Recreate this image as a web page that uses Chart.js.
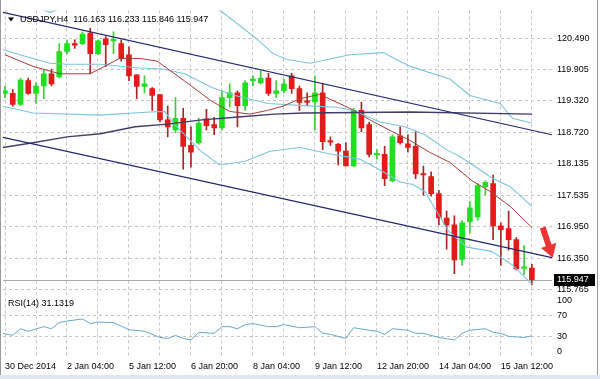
<!DOCTYPE html>
<html>
<head>
<meta charset="utf-8">
<script src="https://cdn.jsdelivr.net/npm/chart.js@4.4.1/dist/chart.umd.min.js"></script>
<style>
  html, body { margin: 0; padding: 0; background: #fff; }
  canvas { display: block; }
</style>
</head>
<body>
<canvas id="fxChart" width="600" height="379"></canvas>
<script>
// USDJPY H4 candles (bar 0 = 30 Dec 2014)
const opens  = [119.46,119.46,119.25,119.70,119.46,119.60,119.83,119.77,120.25,120.39,120.40,120.60,120.21,120.49,120.45,120.40,120.19,119.81,119.59,119.55,119.44,118.96,118.77,118.99,118.48,118.53,118.98,118.87,118.81,119.38,119.47,119.23,119.70,119.66,119.75,119.46,119.51,119.79,119.55,119.31,119.30,119.47,118.56,118.50,118.37,118.09,119.14,118.87,118.30,118.31,117.81,118.66,118.51,118.46,117.94,117.89,117.57,117.11,116.98,116.33,117.04,117.13,117.70,117.76,116.96,116.91,116.70,116.16,116.163];
const highs  = [119.60,119.53,119.75,119.75,119.66,119.90,119.92,120.40,120.47,120.47,120.62,120.69,120.47,120.53,120.62,120.47,120.34,119.81,119.79,119.57,119.44,119.22,119.38,119.18,118.83,118.99,119.16,119.01,119.51,119.64,119.51,119.70,119.79,119.88,119.84,119.70,119.73,119.84,119.60,119.47,119.79,119.64,118.64,118.52,118.53,119.18,119.29,118.92,118.40,118.46,118.68,118.83,118.68,118.74,118.09,117.98,117.63,117.24,117.15,117.06,117.42,117.76,117.81,117.92,117.02,117.24,116.74,116.59,116.233];
const lows   = [119.38,119.22,119.23,119.44,119.27,119.36,119.60,119.75,120.21,120.31,120.38,119.83,120.19,119.97,120.21,120.07,119.70,119.36,119.47,119.14,118.92,118.64,118.72,118.03,118.07,118.50,118.77,118.68,118.77,119.20,118.83,119.14,119.60,119.64,119.42,119.38,119.47,119.46,119.14,119.23,118.77,118.40,118.48,118.11,118.09,118.08,118.74,118.26,118.22,117.72,117.79,118.50,118.35,117.85,117.54,117.52,116.98,116.52,116.06,116.22,116.83,117.07,117.54,116.70,116.22,116.50,116.13,116.04,115.846];
const closes = [119.51,119.25,119.71,119.46,119.60,119.83,119.64,120.25,120.40,120.37,120.58,120.21,120.45,120.38,120.47,120.12,119.79,119.59,119.64,119.42,118.96,118.83,118.99,118.46,118.35,118.90,118.85,118.81,119.38,119.47,119.23,119.66,119.72,119.75,119.46,119.51,119.64,119.55,119.29,119.29,119.47,118.55,118.54,118.37,118.09,119.14,118.81,118.31,118.32,117.85,118.64,118.53,118.44,117.94,117.92,117.57,117.11,116.98,116.32,117.02,117.30,117.72,117.78,116.96,116.89,116.70,116.15,116.17,115.947];

// indicator lines, [bar, value] readings
const fastMA = [[0,120.19],[3.6,119.97],[7.1,119.83],[11,119.83],[14.8,120.12],[17.4,120.12],[19.6,120.07],[23.5,119.66],[26.5,119.33],[29,119.12],[31.6,119.07],[33.9,119.14],[35.9,119.22],[38.1,119.36],[40.6,119.44],[44.5,119.18],[47.1,118.96],[49.3,118.79],[52.3,118.57],[54.8,118.35],[57.4,118.16],[60.3,117.81],[62.6,117.61],[65.2,117.33],[68,116.93]];
const bbMid  = [[-0.3,120.29],[1.9,120.19],[5.8,120.03],[8,120.01],[12.3,120.01],[17.4,119.94],[20.3,119.92],[23.2,119.83],[26.7,119.57],[29.7,119.42],[33.9,119.27],[38.5,119.23],[42.8,119.20],[44.9,119.14],[48.4,118.92],[51.6,118.83],[54.2,118.68],[57.2,118.38],[58.7,118.27],[61.3,118.02],[62.8,117.87],[65.2,117.70],[68,117.33]];
const bbUp   = [[3,121.14],[5.8,120.99],[8.5,121.12],[14,121.3],[25.5,121.35],[27.7,121.03],[29.4,120.84],[32.5,120.49],[34.6,120.21],[36.4,120.10],[39.4,120.03],[44.5,120.19],[48.8,120.23],[52.3,119.97],[57.4,119.73],[60,119.42],[63.9,119.27],[65.5,118.99],[68,118.90]];
const bbLow  = [[-0.6,119.23],[3.6,119.09],[12.3,119.05],[18.7,119.11],[20.6,119.12],[21.9,118.87],[25.2,118.38],[27.7,118.11],[31,118.18],[34.2,118.37],[38.1,118.44],[41.5,118.33],[45.8,118.22],[48.8,117.98],[51,117.79],[52.6,117.74],[54.2,117.61],[57.2,116.87],[59.6,116.56],[62.8,116.48],[65.5,116.22],[68,115.86]];
const slowMA = [[-0.3,118.44],[3.6,118.53],[8,118.64],[12.3,118.70],[16.8,118.83],[21,118.88],[25.4,118.96],[29.7,119.01],[34.8,119.07],[38.5,119.09],[52.3,119.11],[68,119.07]];
const chanTop = [[-0.6,121.00],[70.6,118.68]];
const chanBot = [[-0.3,118.63],[70.6,116.36]];
const arrowPts = [[69.4,116.93],[70.7,116.36]];

const rsi14 = [[-0.3,36],[1,32],[2,45],[3,40],[5,49],[6,45],[7,57],[8,60],[10,64],[11,55],[12,58],[14,57],[16,43],[18,40],[20,28],[21,26],[22,32],[23,26],[24,23],[25,38],[27,36],[28,49],[29,49],[30,45],[31,53],[32,55],[34,49],[35,49],[36,53],[38,47],[40,49],[41,36],[42,34],[44,26],[45,47],[47,42],[48,40],[49,34],[50,45],[52,42],[53,36],[54,36],[56,28],[58,23],[59,36],[60,42],[62,45],[63,38],[64,36],[65,30],[67,28],[68,31.1319]];

const timeLabels = ['30 Dec 2014','2 Jan 04:00','5 Jan 12:00','6 Jan 20:00','8 Jan 04:00','9 Jan 12:00','12 Jan 20:00','14 Jan 04:00','15 Jan 12:00'];
const priceTicks = [120.490,119.905,119.320,118.720,118.135,117.535,116.950,116.350,115.765];
const rsiTicks = [0,30,70,100];
const rsiLevels = [30,70];

const GRID = '#c6c6c6';
const UP = '#1fe01f', DOWN = '#e41b1b';
const n = closes.length;
const isUp = closes.map((c, i) => c >= opens[i]);
const pts = arr => arr.map(p => ({ x: p[0], y: p[1] }));

Chart.defaults.font.family = '"Liberation Sans", Arial, sans-serif';
Chart.defaults.font.size = 9;
Chart.defaults.color = '#000';

const overlay = {
  id: 'overlay',
  beforeDatasetsDraw(chart) {
    const { ctx, chartArea: a, scales: { y } } = chart;
    const py = Math.round(y.getPixelForValue(closes[n - 1])) + 0.5;
    ctx.save();
    ctx.strokeStyle = '#a8a8a8';
    ctx.lineWidth = 1;
    ctx.beginPath();
    ctx.moveTo(a.left, py);
    ctx.lineTo(a.right, py);
    ctx.stroke();
    ctx.restore();
  },
  afterDatasetsDraw(chart) {
    const { ctx, scales: { x, y } } = chart;
    // red arrow
    const tx = x.getPixelForValue(arrowPts[0][0]), ty = y.getPixelForValue(arrowPts[0][1]);
    const hx = x.getPixelForValue(arrowPts[1][0]), hy = y.getPixelForValue(arrowPts[1][1]);
    const len = Math.hypot(hx - tx, hy - ty);
    const dx = (hx - tx) / len, dy = (hy - ty) / len;
    const nx = -dy, ny = dx;
    const bx = hx - dx * 13, by = hy - dy * 13;
    ctx.save();
    ctx.fillStyle = '#ec3434';
    ctx.beginPath();
    ctx.moveTo(tx + nx * 3, ty + ny * 3);
    ctx.lineTo(bx + nx * 3, by + ny * 3);
    ctx.lineTo(bx + nx * 8, by + ny * 8);
    ctx.lineTo(hx, hy);
    ctx.lineTo(bx - nx * 8, by - ny * 8);
    ctx.lineTo(bx - nx * 3, by - ny * 3);
    ctx.lineTo(tx - nx * 3, ty - ny * 3);
    ctx.closePath();
    ctx.fill();
    ctx.restore();
  },
  afterDraw(chart) {
    const { ctx, chartArea: a, scales: { y, rsi } } = chart;
    ctx.save();
    ctx.font = Chart.helpers.toFont(Chart.defaults.font).string;
    ctx.textBaseline = 'middle';
    ctx.fillStyle = '#000';
    // symbol header
    ctx.beginPath();
    ctx.moveTo(a.left + 5, a.top + 7);
    ctx.lineTo(a.left + 11, a.top + 7);
    ctx.lineTo(a.left + 8, a.top + 11);
    ctx.closePath();
    ctx.fill();
    const last = n - 1;
    ctx.fillText('USDJPY,H4  ' + [opens[last], highs[last], lows[last], closes[last]].map(v => v.toFixed(3)).join(' '), a.left + 17, a.top + 9);
    // RSI caption
    ctx.fillText('RSI(14) ' + rsi14[rsi14.length - 1][1].toFixed(4), a.left + 5, rsi.top + 11);
    // current price tag
    const py = Math.round(y.getPixelForValue(closes[last]));
    ctx.fillRect(a.right + 2, py - 6, 41, 12);
    ctx.fillStyle = '#fff';
    ctx.fillText(closes[last].toFixed(3), a.right + 5, py);
    // window frame
    ctx.fillStyle = '#9a9a9a';
    ctx.fillRect(0, 0, 1, chart.height);
    ctx.fillRect(chart.width - 3, 0, 1, chart.height);
    ctx.fillStyle = '#dfe8f2';
    ctx.fillRect(0, chart.height - 4, chart.width, 4);
    ctx.restore();
  }
};

new Chart(document.getElementById('fxChart'), {
  type: 'bar',
  data: {
    datasets: [
      { type: 'line', data: pts(chanTop), yAxisID: 'y', borderColor: '#23236e', borderWidth: 1.2, pointRadius: 0, order: 1 },
      { type: 'line', data: pts(chanBot), yAxisID: 'y', borderColor: '#23236e', borderWidth: 1.2, pointRadius: 0, order: 1 },
      { type: 'line', data: pts(slowMA), yAxisID: 'y', borderColor: '#3e3e66', borderWidth: 1.4, pointRadius: 0, order: 2 },
      { type: 'line', data: pts(fastMA), yAxisID: 'y', borderColor: '#a83c3c', borderWidth: 1, pointRadius: 0, order: 3 },
      { type: 'line', data: pts(bbUp), yAxisID: 'y', borderColor: '#7cc4dc', borderWidth: 1.1, pointRadius: 0, order: 4 },
      { type: 'line', data: pts(bbMid), yAxisID: 'y', borderColor: '#7cc4dc', borderWidth: 1.1, pointRadius: 0, order: 4 },
      { type: 'line', data: pts(bbLow), yAxisID: 'y', borderColor: '#7cc4dc', borderWidth: 1.1, pointRadius: 0, order: 4 },
      { type: 'line', data: pts(rsi14), yAxisID: 'rsi', borderColor: '#6aa8cc', borderWidth: 1, pointRadius: 0, order: 4 },
      {
        data: opens.map((o, i) => ({ x: i, y: [o, closes[i]] })), yAxisID: 'y',
        backgroundColor: isUp.map(u => u ? UP : DOWN), barThickness: 5, minBarLength: 1.5,
        grouped: false, order: 10
      },
      {
        data: lows.map((l, i) => ({ x: i, y: [l, highs[i]] })), yAxisID: 'y',
        backgroundColor: isUp.map(u => u ? '#3ccc3c' : '#a82626'), barThickness: 1,
        grouped: false, order: 11
      }
    ]
  },
  options: {
    responsive: false,
    animation: false,
    devicePixelRatio: 1,
    layout: { padding: { left: 3, top: 3, right: 0, bottom: 0 } },
    plugins: { legend: { display: false }, tooltip: { enabled: false } },
    scales: {
      x: {
        type: 'linear', min: -0.26, max: 70.6, offset: false,
        grid: { color: GRID, drawTicks: false, offset: false },
        border: { display: false, dash: [3, 3] },
        afterBuildTicks: s => { s.ticks = [0,4,8,12,16,20,24,28,32,36,40,44,48,52,56,60,64,68].map(v => ({ value: v })); },
        afterFit: s => { s.height = 22; },
        ticks: { autoSkip: false, maxRotation: 0, align: 'start', padding: 4,
          callback: v => v % 8 === 0 ? timeLabels[v / 8] : '' }
      },
      y: {
        type: 'linear', position: 'right', stack: 'panes', stackWeight: 288,
        min: 115.706, max: 121.026,
        grid: { color: GRID, drawTicks: false },
        border: { display: false, dash: [3, 3] },
        afterBuildTicks: s => { s.ticks = priceTicks.map(v => ({ value: v })); },
        afterFit: s => { s.width = 48; },
        ticks: { autoSkip: false, padding: 5, callback: v => v.toFixed(3) }
      },
      rsi: {
        type: 'linear', position: 'right', stack: 'panes', stackWeight: 66,
        min: -10.1, max: 115.8,
        grid: { drawTicks: false, color: c => (c.tick && rsiLevels.includes(c.tick.value)) ? GRID : 'rgba(0,0,0,0)' },
        border: { display: false, dash: [3, 3] },
        afterBuildTicks: s => { s.ticks = rsiTicks.map(v => ({ value: v })); },
        afterFit: s => { s.width = 48; },
        ticks: { autoSkip: false, padding: 5, callback: v => String(v) }
      }
    }
  },
  plugins: [overlay]
});
</script>
</body>
</html>
